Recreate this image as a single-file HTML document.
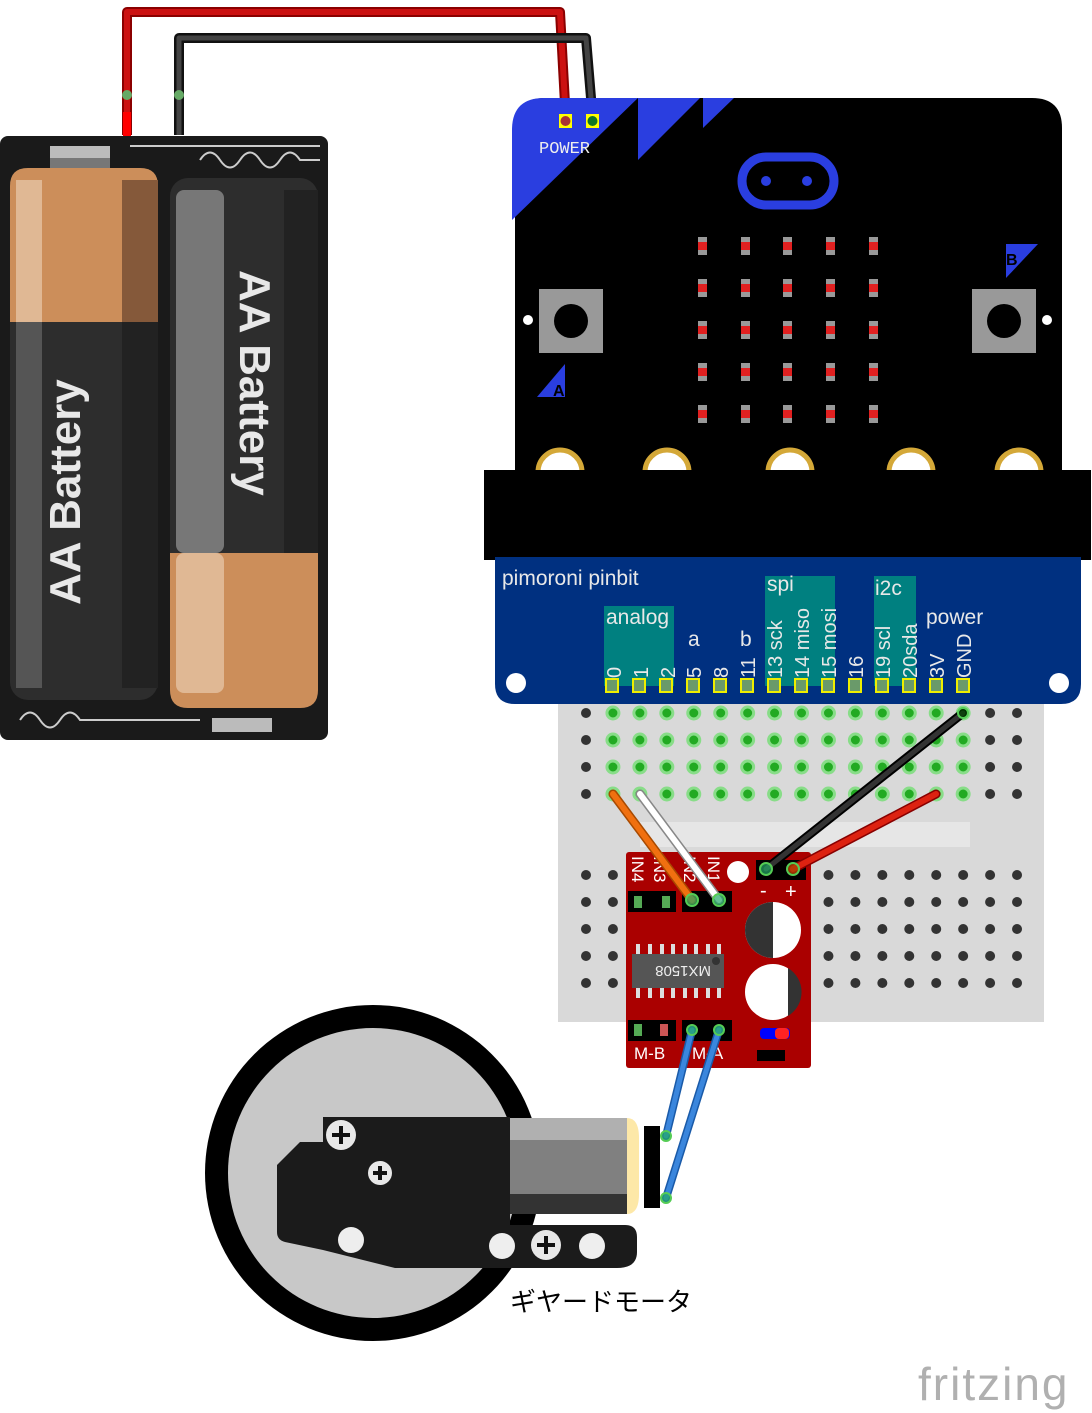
<!DOCTYPE html>
<html><head><meta charset="utf-8"><style>
html,body{margin:0;padding:0;background:#fff;}
svg{display:block}
</style></head><body>
<svg width="1092" height="1413" viewBox="0 0 1092 1413" xmlns="http://www.w3.org/2000/svg" font-family="Liberation Sans, DejaVu Sans, sans-serif">
<!-- Battery holder -->
<rect x="0" y="136" width="328" height="604" rx="8" fill="#1a1a1a"/>
<rect x="50" y="146" width="60" height="12" fill="#bbb"/>
<rect x="50" y="158" width="60" height="10" fill="#777"/>
<rect x="212" y="718" width="60" height="14" fill="#bbb"/>
<path d="M130 146 L320 146 M200 160 q10 -15 20 0 q10 15 20 0 q10 -15 20 0 q10 15 20 0 q10-15 20 0 L320 160" stroke="#ccc" stroke-width="2" fill="none"/>
<path d="M20 720 q10 -15 20 0 q10 15 20 0 q10 -15 20 0 L200 720" stroke="#ccc" stroke-width="2" fill="none"/>
<!-- left battery -->
<rect x="10" y="168" width="148" height="532" rx="18" fill="#2d2d2d"/>
<path d="M10 186 q0 -18 18 -18 h112 q18 0 18 18 V322 H10Z" fill="#cc8e5a"/>
<rect x="16" y="180" width="26" height="142" fill="#e0b894"/>
<rect x="122" y="180" width="36" height="142" fill="#85593a"/>
<rect x="16" y="322" width="26" height="366" fill="#555"/>
<rect x="122" y="322" width="36" height="366" fill="#222"/>
<text transform="translate(80,605) rotate(-90)" font-size="44" font-weight="bold" fill="#e8e8e8">AA Battery</text>
<!-- right battery -->
<rect x="170" y="178" width="148" height="530" rx="18" fill="#2d2d2d"/>
<path d="M170 553 H318 V690 q0 18 -18 18 H188 q-18 0 -18 -18Z" fill="#cc8e5a"/>
<rect x="176" y="553" width="48" height="140" rx="8" fill="#e0b894"/>
<rect x="176" y="190" width="48" height="363" rx="8" fill="#777"/>
<rect x="284" y="190" width="34" height="363" fill="#222"/>
<text transform="translate(240,270) rotate(90)" font-size="44" font-weight="bold" fill="#e8e8e8">AA Battery</text>
<!-- battery wires -->
<path d="M127 135 V12 H560 L566 122" stroke="#8b0000" stroke-width="10" fill="none" stroke-linejoin="round"/>
<path d="M127 135 V12 H560 L566 122" stroke="#cc1111" stroke-width="6" fill="none" stroke-linejoin="round"/>
<path d="M179 135 V38 H586 L593 122" stroke="#111" stroke-width="10" fill="none" stroke-linejoin="round"/>
<path d="M179 135 V38 H586 L593 122" stroke="#444" stroke-width="5" fill="none" stroke-linejoin="round"/>
<rect x="123" y="112" width="8" height="24" fill="#f00"/>
<circle cx="127" cy="95" r="5" fill="#6a6"/><circle cx="179" cy="95" r="5" fill="#6a6"/>
<!-- microbit -->
<path d="M515 470 V128 q0 -30 30 -30 H1032 q30 0 30 30 V470Z" fill="#000"/>
<path d="M512 220 V130 q0 -32 32 -32 H638Z" fill="#2a3ee0"/>
<path d="M638 160 V98 H700Z" fill="#2a3ee0"/>
<path d="M703 128 V98 H734Z" fill="#2a3ee0"/>
<rect x="559" y="114" width="13" height="14" fill="#ff0"/><circle cx="565.5" cy="121" r="5" fill="#a33"/>
<rect x="586" y="114" width="13" height="14" fill="#ff0"/><circle cx="592.5" cy="121" r="5" fill="#172"/>
<text x="539" y="153" font-family="Liberation Mono, monospace" font-size="17" fill="#eee">POWER</text>
<rect x="742" y="157" width="92" height="48" rx="24" fill="none" stroke="#2a3ee0" stroke-width="9"/>
<circle cx="766" cy="181" r="5" fill="#2a3ee0"/><circle cx="807" cy="181" r="5" fill="#2a3ee0"/>
<g fill="#999">
<rect x="698" y="237" width="9" height="18"/><rect x="741" y="237" width="9" height="18"/><rect x="783" y="237" width="9" height="18"/><rect x="826" y="237" width="9" height="18"/><rect x="869" y="237" width="9" height="18"/>
<rect x="698" y="279" width="9" height="18"/><rect x="741" y="279" width="9" height="18"/><rect x="783" y="279" width="9" height="18"/><rect x="826" y="279" width="9" height="18"/><rect x="869" y="279" width="9" height="18"/>
<rect x="698" y="321" width="9" height="18"/><rect x="741" y="321" width="9" height="18"/><rect x="783" y="321" width="9" height="18"/><rect x="826" y="321" width="9" height="18"/><rect x="869" y="321" width="9" height="18"/>
<rect x="698" y="363" width="9" height="18"/><rect x="741" y="363" width="9" height="18"/><rect x="783" y="363" width="9" height="18"/><rect x="826" y="363" width="9" height="18"/><rect x="869" y="363" width="9" height="18"/>
<rect x="698" y="405" width="9" height="18"/><rect x="741" y="405" width="9" height="18"/><rect x="783" y="405" width="9" height="18"/><rect x="826" y="405" width="9" height="18"/><rect x="869" y="405" width="9" height="18"/>
</g>
<g fill="#e02020">
<rect x="698" y="242" width="9" height="8"/><rect x="741" y="242" width="9" height="8"/><rect x="783" y="242" width="9" height="8"/><rect x="826" y="242" width="9" height="8"/><rect x="869" y="242" width="9" height="8"/>
<rect x="698" y="284" width="9" height="8"/><rect x="741" y="284" width="9" height="8"/><rect x="783" y="284" width="9" height="8"/><rect x="826" y="284" width="9" height="8"/><rect x="869" y="284" width="9" height="8"/>
<rect x="698" y="326" width="9" height="8"/><rect x="741" y="326" width="9" height="8"/><rect x="783" y="326" width="9" height="8"/><rect x="826" y="326" width="9" height="8"/><rect x="869" y="326" width="9" height="8"/>
<rect x="698" y="368" width="9" height="8"/><rect x="741" y="368" width="9" height="8"/><rect x="783" y="368" width="9" height="8"/><rect x="826" y="368" width="9" height="8"/><rect x="869" y="368" width="9" height="8"/>
<rect x="698" y="410" width="9" height="8"/><rect x="741" y="410" width="9" height="8"/><rect x="783" y="410" width="9" height="8"/><rect x="826" y="410" width="9" height="8"/><rect x="869" y="410" width="9" height="8"/>
</g>
<rect x="539" y="289" width="64" height="64" fill="#999"/><circle cx="571" cy="321" r="17" fill="#000"/>
<rect x="972" y="289" width="64" height="64" fill="#999"/><circle cx="1004" cy="321" r="17" fill="#000"/>
<circle cx="528" cy="320" r="5" fill="#fff"/><circle cx="1047" cy="320" r="5" fill="#fff"/>
<path d="M537 397 L565 364 V397Z" fill="#2a3ee0"/><text x="553" y="396" font-size="16" font-weight="bold" fill="#000">A</text>
<path d="M1006 244 H1038 L1006 278Z" fill="#2a3ee0"/><text x="1006" y="265" font-size="16" font-weight="bold" fill="#000">B</text>
<g fill="#fff" stroke="#d4a838" stroke-width="5">
<circle cx="560" cy="472" r="22"/><circle cx="667" cy="472" r="22"/><circle cx="790" cy="472" r="22"/><circle cx="911" cy="472" r="22"/><circle cx="1019" cy="472" r="22"/>
</g>
<rect x="484" y="470" width="607" height="90" fill="#000"/>
<!-- breadboard -->
<rect x="558" y="700" width="486" height="322" fill="#d9d9d9"/>
<rect x="640" y="822" width="330" height="25" fill="#e6e6e6"/>
<g id="holes"></g>
<!-- pinbit -->
<path d="M495 557 H1081 V684 q0 20 -20 20 H515 q-20 0 -20 -20Z" fill="#003080"/>
<text x="502" y="585" font-size="21" fill="#e8e8e8">pimoroni pinbit</text>
<rect x="604" y="606" width="70" height="80" fill="#008080"/>
<rect x="765" y="576" width="70" height="110" fill="#008080"/>
<rect x="874" y="576" width="42" height="110" fill="#008080"/>
<text x="606" y="624" font-size="21" fill="#e8e8e8">analog</text>
<text x="767" y="591" font-size="21" fill="#e8e8e8">spi</text>
<text x="875" y="595" font-size="21" fill="#e8e8e8">i2c</text>
<text x="688" y="646" font-size="21" fill="#e8e8e8">a</text>
<text x="740" y="646" font-size="21" fill="#e8e8e8">b</text>
<text x="926" y="624" font-size="21" fill="#e8e8e8">power</text>
<g font-size="20" fill="#e8e8e8">
<text transform="translate(621,678) rotate(-90)">0</text>
<text transform="translate(648,678) rotate(-90)">1</text>
<text transform="translate(675,678) rotate(-90)">2</text>
<text transform="translate(701,678) rotate(-90)">5</text>
<text transform="translate(728,678) rotate(-90)">8</text>
<text transform="translate(755,678) rotate(-90)">11</text>
<text transform="translate(782,678) rotate(-90)">13 sck</text>
<text transform="translate(809,678) rotate(-90)">14 miso</text>
<text transform="translate(836,678) rotate(-90)">15 mosi</text>
<text transform="translate(863,678) rotate(-90)">16</text>
<text transform="translate(890,678) rotate(-90)">19 scl</text>
<text transform="translate(917,678) rotate(-90)">20sda</text>
<text transform="translate(944,678) rotate(-90)">3V</text>
<text transform="translate(971,678) rotate(-90)">GND</text>
</g>
<g fill="#6a9a6a" stroke="#ee0" stroke-width="2">
<rect x="606" y="679" width="12" height="13"/><rect x="633" y="679" width="12" height="13"/><rect x="660" y="679" width="12" height="13"/><rect x="687" y="679" width="12" height="13"/><rect x="714" y="679" width="12" height="13"/><rect x="741" y="679" width="12" height="13"/><rect x="768" y="679" width="12" height="13"/><rect x="795" y="679" width="12" height="13"/><rect x="822" y="679" width="12" height="13"/><rect x="849" y="679" width="12" height="13"/><rect x="876" y="679" width="12" height="13"/><rect x="903" y="679" width="12" height="13"/><rect x="930" y="679" width="12" height="13"/><rect x="957" y="679" width="12" height="13"/>
</g>
<circle cx="516" cy="683" r="10" fill="#fff"/><circle cx="1059" cy="683" r="10" fill="#fff"/>
<!-- motor driver -->
<rect x="626" y="852" width="185" height="216" rx="3" fill="#aa0000"/>
<g fill="#fff" font-size="17">
<text transform="translate(632,856) rotate(90)">IN4</text>
<text transform="translate(654,856) rotate(90)">IN3</text>
<text transform="translate(684,856) rotate(90)">IN2</text>
<text transform="translate(708,856) rotate(90)">IN1</text>
<text x="634" y="1059">M-B</text><text x="692" y="1059">M-A</text>
<text x="760" y="897" font-size="20">-</text><text x="785" y="898" font-size="20">+</text>
</g>
<circle cx="738" cy="872" r="11" fill="#fff"/>
<rect x="628" y="891" width="48" height="21" fill="#000"/><rect x="682" y="891" width="50" height="21" fill="#000"/>
<rect x="634" y="896" width="8" height="12" fill="#5a5"/><rect x="662" y="896" width="8" height="12" fill="#5a5"/>
<rect x="756" y="860" width="50" height="20" fill="#000"/>
<rect x="628" y="1020" width="48" height="21" fill="#000"/><rect x="682" y="1020" width="50" height="21" fill="#000"/>
<rect x="634" y="1024" width="8" height="12" fill="#5a5"/><rect x="660" y="1024" width="8" height="12" fill="#c55"/>
<g fill="#ddd"><rect x="636" y="944" width="4" height="10"/><rect x="648" y="944" width="4" height="10"/><rect x="660" y="944" width="4" height="10"/><rect x="671" y="944" width="4" height="10"/><rect x="683" y="944" width="4" height="10"/><rect x="694" y="944" width="4" height="10"/><rect x="706" y="944" width="4" height="10"/><rect x="717" y="944" width="4" height="10"/>
<rect x="636" y="988" width="4" height="10"/><rect x="648" y="988" width="4" height="10"/><rect x="660" y="988" width="4" height="10"/><rect x="671" y="988" width="4" height="10"/><rect x="683" y="988" width="4" height="10"/><rect x="694" y="988" width="4" height="10"/><rect x="706" y="988" width="4" height="10"/><rect x="717" y="988" width="4" height="10"/></g>
<rect x="632" y="954" width="92" height="34" fill="#555"/>
<circle cx="716" cy="961" r="4" fill="#333"/>
<text transform="translate(711,966) rotate(180)" font-size="15" fill="#eee">MX1508</text>
<circle cx="773" cy="930" r="28" fill="#fff"/><path d="M773 902 a28 28 0 0 0 0 56Z" fill="#333"/>
<circle cx="773" cy="992" r="28" fill="#fff"/><path d="M788 968 a28 28 0 0 1 0 48Z" fill="#333"/>
<rect x="760" y="1028" width="30" height="11" rx="4" fill="#00f"/><rect x="775" y="1028" width="14" height="11" rx="4" fill="#f22"/>
<rect x="757" y="1050" width="28" height="11" fill="#000"/>
<!-- wheel motor -->
<circle cx="373" cy="1173" r="168" fill="#000"/>
<circle cx="373" cy="1173" r="145" fill="#c8c8c8"/>
<path d="M323 1117 H510 V1225 H625 q12 0 12 12 v15 q0 16 -20 16 H395 L323 1250 L285 1242 q-8 -2 -8 -10 V1165 L300 1142 H323Z" fill="#1b1b1b"/>
<rect x="510" y="1118" width="117" height="96" fill="#808080"/>
<rect x="510" y="1118" width="117" height="22" fill="#b0b0b0"/>
<rect x="510" y="1194" width="117" height="20" fill="#333"/>
<path d="M627 1118 q12 0 12 20 v56 q0 20 -12 20Z" fill="#fde8a8"/>
<rect x="644" y="1126" width="16" height="82" fill="#000"/>
<circle cx="341" cy="1135" r="15" fill="#e8e8e8"/><path d="M341 1126 v18 M332 1135 h18" stroke="#111" stroke-width="4"/>
<circle cx="380" cy="1173" r="12" fill="#e8e8e8"/><path d="M380 1166 v14 M373 1173 h14" stroke="#111" stroke-width="4"/>
<circle cx="351" cy="1240" r="13" fill="#eee"/>
<circle cx="502" cy="1246" r="13" fill="#eee"/><circle cx="592" cy="1246" r="13" fill="#eee"/>
<circle cx="546" cy="1245" r="15" fill="#e8e8e8"/><path d="M546 1236 v18 M537 1245 h18" stroke="#111" stroke-width="4"/>
<text x="510" y="1311" font-family="Liberation Sans, Noto Sans CJK JP, sans-serif" font-size="26" fill="#000">ギヤードモータ</text>
<!-- wires -->
<g stroke-linecap="round">
<path d="M692 1030 L666 1136" stroke="#1a5aa8" stroke-width="8"/><path d="M692 1030 L666 1136" stroke="#3a86dd" stroke-width="5"/>
<path d="M719 1030 L666 1198" stroke="#1a5aa8" stroke-width="8"/><path d="M719 1030 L666 1198" stroke="#3a86dd" stroke-width="5"/>
<path d="M613 794 L692 900" stroke="#a84a00" stroke-width="9"/><path d="M613 794 L692 900" stroke="#f07010" stroke-width="6"/>
<path d="M640 794 L719 900" stroke="#888" stroke-width="9"/><path d="M640 794 L719 900" stroke="#fff" stroke-width="6"/>
<path d="M963 713 L766 869" stroke="#000" stroke-width="9"/><path d="M963 713 L766 869" stroke="#333" stroke-width="5"/>
<path d="M936 794 L793 869" stroke="#800" stroke-width="9"/><path d="M936 794 L793 869" stroke="#d21" stroke-width="6"/>
</g>
<g fill="#2a6" fill-opacity="0.7" stroke="#5c5" stroke-width="2">
<circle cx="692" cy="1030" r="5"/><circle cx="719" cy="1030" r="5"/><circle cx="666" cy="1136" r="5"/><circle cx="666" cy="1198" r="5"/>
<circle cx="692" cy="900" r="6"/><circle cx="719" cy="900" r="6"/><circle cx="766" cy="869" r="6"/><circle cx="793" cy="869" r="6" fill="#a40"/>
<circle cx="963" cy="713" r="5" fill="#040"/>
</g>
<text x="918" y="1400" font-size="46" fill="#b0b0b0" letter-spacing="2">fritzing</text>
<script>
(function(){var g=document.getElementById('holes'),ns='http://www.w3.org/2000/svg';
function h(x,y,green){var c=document.createElementNS(ns,'circle');c.setAttribute('cx',x);c.setAttribute('cy',y);c.setAttribute('r',green?6:5);c.setAttribute('fill',green?'#2a2':'#333');if(green){c.setAttribute('stroke','#8d8');c.setAttribute('stroke-width','3');}g.appendChild(c);}
for(var i=0;i<17;i++){var x=586+i*26.94;
[713,740,767,794].forEach(function(y){h(x,y,i>=1&&i<=14);});
if(i<2||i>7)[875,902,929,956,983].forEach(function(y){h(x,y,false);});}
})();
</script>
</svg>
</body></html>
